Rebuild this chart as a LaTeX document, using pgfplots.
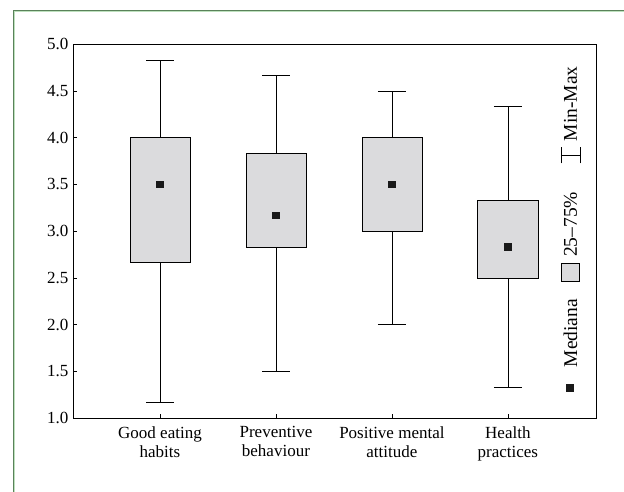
\documentclass[border=0pt]{standalone}
\usepackage{pgfplots}
\pgfplotsset{compat=1.18}
\usepackage{fontspec}
\setmainfont{Liberation Serif}
\usepgfplotslibrary{statistics}
\definecolor{framegreen}{RGB}{90,130,90}
\definecolor{framelight}{RGB}{190,225,190}
\definecolor{boxgray}{RGB}{219,219,221}
\begin{document}
\begin{tikzpicture}
\useasboundingbox (0,0) rectangle (624pt,-491pt);
\draw[framelight, line width=1.2pt] (13.9pt,-520pt) -- (13.9pt,-10.9pt) -- (640pt,-10.9pt);
\draw[framegreen, line width=1pt] (13pt,-520pt) -- (13pt,-10pt) -- (640pt,-10pt);
\begin{axis}[
  at={(73pt,-418pt)}, anchor=south west,
  scale only axis, width=523pt, height=374pt,
  xmin=-0.75, xmax=3.76, ymin=1, ymax=5,
  ytick={1,1.5,...,5},
  yticklabel style={/pgf/number format/fixed, /pgf/number format/fixed zerofill, /pgf/number format/precision=1, font=\fontsize{17}{19}\selectfont, xshift=-1pt},
  /pgf/number format/assume math mode=true,
  xtick={0,1,2,3},
  xticklabels={{Good eating\\habits},{Preventive\\behaviour},{Positive mental\\attitude},{Health\\practices}},
  xticklabel style={align=center, font=\fontsize{17}{19}\selectfont, yshift=-5pt},
  tick style={black, thin},
  major tick length=4pt,
  tick align=inside,
  xtick pos=bottom, ytick pos=left,
  axis line style={black, line width=0.8pt},
  clip=false,
]
\pgfplotsset{boxplot/draw direction=y,
  boxplot/every box/.style={draw=black, fill=boxgray, line width=0.5pt},
  boxplot/every whisker/.style={black, line width=0.5pt},
  boxplot/every median/.style={draw=none},
  boxplot/box extend=0.52, boxplot/whisker extend=0.24}
\addplot+[black, mark=none, boxplot prepared={draw position=0, lower whisker=1.17, lower quartile=2.67, median=3.5, upper quartile=4.0, upper whisker=4.83}] coordinates {};
\addplot+[black, mark=none, boxplot prepared={draw position=1, lower whisker=1.5, lower quartile=2.83, median=3.17, upper quartile=3.83, upper whisker=4.67}] coordinates {};
\addplot+[black, mark=none, boxplot prepared={draw position=2, lower whisker=2.0, lower quartile=3.0, median=3.5, upper quartile=4.0, upper whisker=4.5}] coordinates {};
\addplot+[black, mark=none, boxplot prepared={draw position=3, lower whisker=1.33, lower quartile=2.5, median=2.83, upper quartile=3.33, upper whisker=4.33}] coordinates {};
\addplot[only marks, mark=square*, mark size=3.3pt, color=black!90] coordinates {(0,3.5) (1,3.17) (2,3.5) (3,2.83)};
% legend
\fill[black!90] (axis cs:3.54,1.32) ++(-4pt,-4pt) rectangle ++(8pt,8pt);
\node[rotate=90, anchor=west, inner sep=0pt, font=\fontsize{19.5}{21}\selectfont] at (axis cs:3.54,1.54) {Mediana};
\draw[black, fill=boxgray, line width=0.5pt] (axis cs:3.54,2.56) ++(-9pt,-9pt) rectangle ++(18pt,18pt);
\node[rotate=90, anchor=west, inner sep=0pt, font=\fontsize{19.5}{21}\selectfont] at (axis cs:3.54,2.72) {25--75\%};
\draw[black, line width=0.5pt] (axis cs:3.54,3.81) ++(-9.5pt,-8pt) -- ++(0pt,16pt) ++(0pt,-8pt) -- ++(19pt,0pt) ++(0pt,-8pt) -- ++(0pt,16pt);
\node[rotate=90, anchor=west, inner sep=0pt, font=\fontsize{19.5}{21}\selectfont] at (axis cs:3.54,3.96) {Min-Max};
\end{axis}
\end{tikzpicture}
\end{document}
